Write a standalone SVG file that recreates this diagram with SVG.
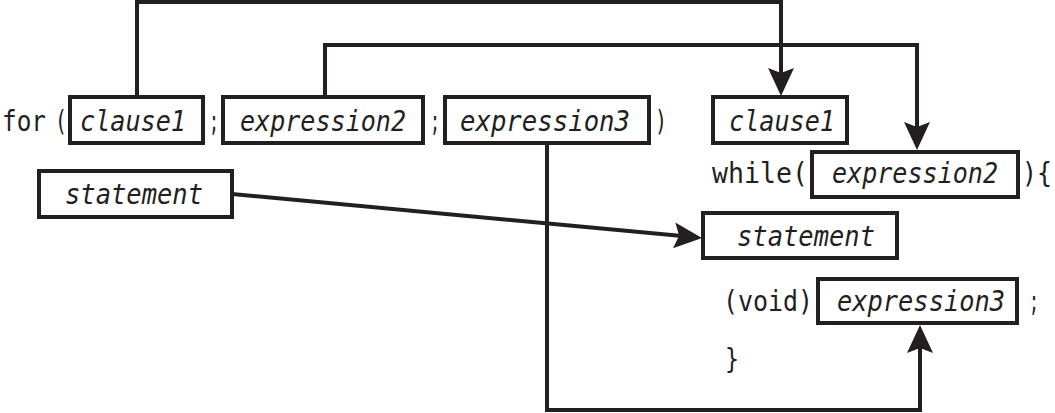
<svg xmlns="http://www.w3.org/2000/svg" width="1055" height="413" viewBox="0 0 1055 413">
<style>
.box{fill:#fff;stroke:#231f20;stroke-width:4}
.lbl{font-family:"DejaVu Sans Mono","Liberation Mono",monospace;font-style:italic;font-size:29px;fill:#231f20}
.code{font-family:"DejaVu Sans Mono","Liberation Mono",monospace;font-size:29px;fill:#231f20}
.conn{fill:none;stroke:#231f20;stroke-width:4}
</style>
<defs>
<marker id="arr" viewBox="0 0 28 26" markerWidth="28" markerHeight="26" refX="8" refY="13" orient="auto" markerUnits="userSpaceOnUse">
<path d="M0,0 L28,13 L0,26 L5,13 Z" fill="#231f20"/>
</marker>
</defs>
<g id="connectors">
<path class="conn" d="M137,97 V2 H781 V76" marker-end="url(#arr)"/>
<path class="conn" d="M325,97 V45 H917 V130" marker-end="url(#arr)"/>
<path class="conn" d="M232,194 L682.1,236.1" marker-end="url(#arr)"/>
<path class="conn" d="M547,143 V410 H920 V345" marker-end="url(#arr)"/>
</g>
<g id="for-line">
<text class="code" x="2" y="131" textLength="44" lengthAdjust="spacingAndGlyphs">for</text>
<text class="code" x="55" y="131" textLength="12" lengthAdjust="spacingAndGlyphs">(</text>
<text class="code" x="209" y="131" textLength="10" lengthAdjust="spacingAndGlyphs">;</text>
<text class="code" x="430" y="131" textLength="10" lengthAdjust="spacingAndGlyphs">;</text>
<text class="code" x="655" y="131" textLength="12" lengthAdjust="spacingAndGlyphs">)</text>
</g>
<g id="for-clause1"><rect class="box" x="70" y="97" width="133" height="46"/><text class="lbl" x="80" y="131" textLength="106" lengthAdjust="spacingAndGlyphs">clause1</text></g>
<g id="for-expression2"><rect class="box" x="223" y="97" width="200" height="46"/><text class="lbl" x="240" y="131" textLength="166" lengthAdjust="spacingAndGlyphs">expression2</text></g>
<g id="for-expression3"><rect class="box" x="445" y="97" width="204" height="46"/><text class="lbl" x="460" y="131" textLength="170" lengthAdjust="spacingAndGlyphs">expression3</text></g>
<g id="for-statement"><rect class="box" x="39" y="171" width="193" height="46"/><text class="lbl" x="65" y="204" textLength="138" lengthAdjust="spacingAndGlyphs">statement</text></g>
<g id="while-clause1"><rect class="box" x="713" y="97" width="134" height="46"/><text class="lbl" x="729" y="131" textLength="106" lengthAdjust="spacingAndGlyphs">clause1</text></g>
<g id="while-line">
<text class="code" x="712" y="183" textLength="96" lengthAdjust="spacingAndGlyphs">while(</text>
<text class="code" x="1022" y="183" textLength="30" lengthAdjust="spacingAndGlyphs">){</text>
<text class="code" x="723" y="311" textLength="90" lengthAdjust="spacingAndGlyphs">(void)</text>
<text class="code" x="1029" y="311" textLength="10" lengthAdjust="spacingAndGlyphs">;</text>
<text class="code" x="725" y="369" textLength="14" lengthAdjust="spacingAndGlyphs">}</text>
</g>
<g id="while-expression2"><rect class="box" x="812" y="152" width="206" height="45"/><text class="lbl" x="832" y="183" textLength="166" lengthAdjust="spacingAndGlyphs">expression2</text></g>
<g id="while-statement"><rect class="box" x="703" y="213" width="194" height="45"/><text class="lbl" x="737" y="246" textLength="138" lengthAdjust="spacingAndGlyphs">statement</text></g>
<g id="while-expression3"><rect class="box" x="818" y="279" width="199" height="44"/><text class="lbl" x="837" y="311" textLength="168" lengthAdjust="spacingAndGlyphs">expression3</text></g>
</svg>
